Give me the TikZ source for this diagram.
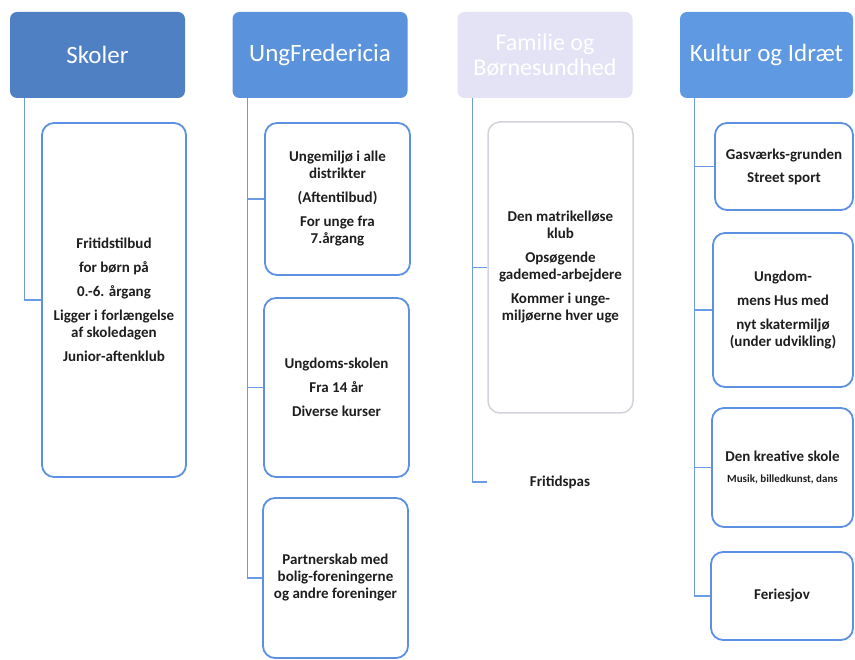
\documentclass[tikz,border=0pt]{standalone}
\usepackage{fontspec}
\setmainfont{Carlito}
\definecolor{h1col}{HTML}{4E80C3}
\definecolor{h2col}{HTML}{5A93DC}
\definecolor{h3col}{HTML}{E3E3F5}
\definecolor{h4col}{HTML}{5E99E2}
\definecolor{itemblue}{HTML}{5C90E2}
\definecolor{connblue}{HTML}{6A9BE5}
\definecolor{textdark}{HTML}{1E1E1E}
\definecolor{grayline}{HTML}{D2D2DA}
\begin{document}
\begin{tikzpicture}[x=1pt,y=-1pt,
  head/.style={rounded corners=7pt, minimum width=175pt, minimum height=86pt,
    text=white, font=\fontsize{25}{26}\selectfont, align=center, inner sep=0pt},
  item/.style={draw=itemblue, line width=1.8pt, rounded corners=12pt, fill=white,
    align=center, font=\bfseries\fontsize{15}{17}\selectfont, text=textdark, inner sep=2pt},
  conn/.style={draw=connblue, line width=1.3pt}]
\useasboundingbox (0,0) rectangle (855,660);
% headers
\node[head, fill=h1col] (h1) at (97.5,55) {Skoler};
\node[head, fill=h2col] (h2) at (320,55) {UngFredericia};
\node[head, fill=h3col, font=\fontsize{24}{25}\selectfont] (h3) at (545,55) {Familie og\\Børnesundhed};
\node[head, fill=h4col, minimum width=173pt] (h4) at (766.5,55) {Kultur og Idræt};
% Skoler
\node[item, minimum width=144pt, minimum height=354pt] (s1) at (114,300)
  {Fritidstilbud\\[7pt]for børn på\\[7pt]0.-6. årgang\\[7pt]Ligger i forlængelse\\af skoledagen\\[7pt]Junior-aftenklub};
% UngFredericia
\node[item, minimum width=145pt, minimum height=152pt] (u1) at (337.5,199)
  {Ungemiljø i alle\\distrikter\\[7pt](Aftentilbud)\\[7pt]For unge fra\\7.årgang};
\node[item, minimum width=145pt, minimum height=179pt] (u2) at (336.5,387.5)
  {Ungdoms-skolen\\[7pt]Fra 14 år\\[7pt]Diverse kurser};
\node[item, minimum width=145pt, minimum height=160pt] (u3) at (335.5,578)
  {Partnerskab med\\bolig-foreningerne\\og andre foreninger};
% Familie
\node[item, draw=grayline, line width=1.5pt, minimum width=145pt, minimum height=291pt] (f1) at (560.5,267.5)
  {Den matrikelløse\\klub\\[7pt]Opsøgende\\gademed-arbejdere\\[7pt]Kommer i unge-\\miljøerne hver uge};
\node[item, draw=none, minimum width=145pt, minimum height=90pt] (f2) at (560,482) {Fritidspas};
% Kultur
\node[item, minimum width=138pt, minimum height=87pt] (k1) at (784,166.5)
  {Gasværks-grunden\\[6pt]Street sport};
\node[item, minimum width=140pt, minimum height=154pt] (k2) at (783,310)
  {Ungdom-\\[7pt]mens Hus med\\[7pt]nyt skatermiljø\\(under udvikling)};
\node[item, minimum width=141pt, minimum height=119pt] (k3) at (782.5,467.5)
  {Den kreative skole\\[4pt]{\fontsize{11}{13}\selectfont Musik, billedkunst, dans}};
\node[item, minimum width=142pt, minimum height=88pt] (k4) at (782,596) {Feriesjov};
% connectors
\draw[conn] ([xshift=15pt]h1.south west) |- (s1.west);
\draw[conn] ([xshift=15pt]h2.south west) |- (u3.west);
\draw[conn] ([xshift=15pt]h2.south west) |- (u1.west);
\draw[conn] ([xshift=15pt]h2.south west) |- (u2.west);
\draw[conn] ([xshift=15pt]h3.south west) |- (f2.west);
\draw[conn] ([xshift=15pt]h3.south west) |- (f1.west);
\draw[conn] ([xshift=15pt]h4.south west) |- (k4.west);
\draw[conn] ([xshift=15pt]h4.south west) |- (k1.west);
\draw[conn] ([xshift=15pt]h4.south west) |- (k2.west);
\draw[conn] ([xshift=15pt]h4.south west) |- (k3.west);
\end{tikzpicture}
\end{document}
